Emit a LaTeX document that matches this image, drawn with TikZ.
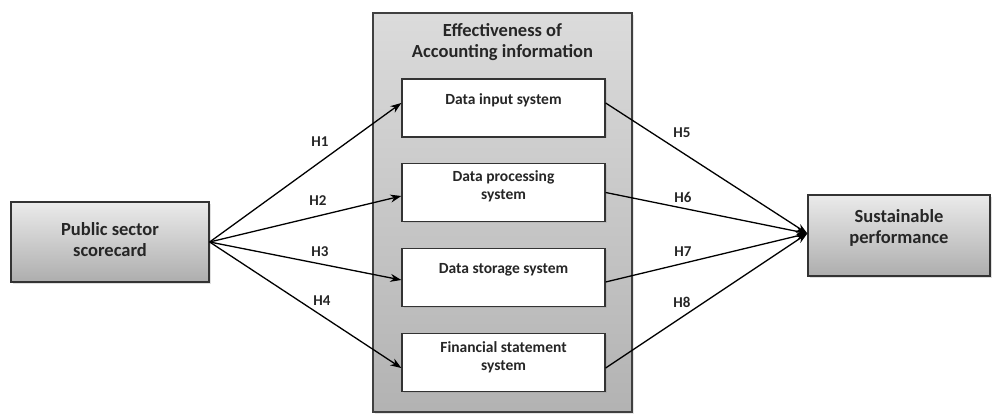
\documentclass[tikz,border=0pt]{standalone}
\usepackage{fontspec}
\setmainfont{Carlito}
\usetikzlibrary{arrows.meta,shadows}
\definecolor{txt}{HTML}{262626}
\tikzset{
  graybox/.style={draw=black!80, line width=1.3pt, top color=black!8, bottom color=black!32,
    drop shadow={opacity=0.25, shadow xshift=2pt, shadow yshift=-2pt}},
  bigbox/.style={draw=black!75, line width=1.3pt, top color=black!14, bottom color=black!30,
    drop shadow={opacity=0.2, shadow xshift=2pt, shadow yshift=-2pt}},
  whitebox/.style={draw=black!80, line width=1.3pt, fill=white, minimum width=203pt, minimum height=58pt,
    drop shadow={opacity=0.2, shadow xshift=1.5pt, shadow yshift=-1.5pt}},
  boxtext/.style={font=\fontsize{15.5}{18}\selectfont\bfseries, text=txt, align=center},
  maintext/.style={font=\fontsize{18.5}{21}\selectfont\bfseries, text=txt, align=center},
  hlab/.style={font=\fontsize{15}{17}\selectfont\bfseries, text=txt},
  link/.style={line width=1.3pt, black, -{Stealth[length=11pt,width=8pt]}}
}
\begin{document}
\begin{tikzpicture}[x=1pt,y=-1pt]
\useasboundingbox (0,0) rectangle (992,414);
% left box
\node[graybox, minimum width=198pt, minimum height=80pt, inner sep=0pt] (L) at (110,242) {};
\node[maintext] (Lt) at (110,240) {Public sector\\scorecard};
% big box
\node[bigbox, minimum width=259pt, minimum height=399pt, inner sep=0pt] (B) at (502.5,212.5) {};
\node[maintext] (Bt) at (502.5,42) {Effectiveness of\\Accounting information};
% inner boxes
\node[whitebox] (b1) at (503.5,108) {};
\node[boxtext] (b1t) at (503.5,100) {Data input system};
\node[whitebox] (b2) at (503.5,192.5) {};
\node[boxtext] (b2t) at (503.5,186) {Data processing\\system};
\node[whitebox] (b3) at (503.5,277.5) {};
\node[boxtext] (b3t) at (503.5,270) {Data storage system};
\node[whitebox] (b4) at (503.5,362.5) {};
\node[boxtext] (b4t) at (503.5,357) {Financial statement\\system};
% right box
\node[graybox, minimum width=182pt, minimum height=81pt, inner sep=0pt] (R) at (899,235.5) {};
\node[maintext] (Rt) at (899,228) {Sustainable\\performance};
% arrows left
\draw[link] (L.east) -- ([yshift=5pt]b1.west);
\draw[link] (L.east) -- ([yshift=-3.5pt]b2.west);
\draw[link] (L.east) -- ([yshift=-2.5pt]b3.west);
\draw[link] (L.east) -- ([yshift=-5.5pt]b4.west);
% arrows right
\draw[link] ([yshift=5pt]b1.east) -- ([yshift=2pt]R.west);
\draw[link] (b2.east) -- ([yshift=2pt]R.west);
\draw[link] ([yshift=-4.5pt]b3.east) -- ([yshift=2pt]R.west);
\draw[link] ([yshift=-5.5pt]b4.east) -- ([yshift=2pt]R.west);
% labels
\node[hlab] (h1) at (320,142) {H1};
\node[hlab] (h2) at (318,201) {H2};
\node[hlab] (h3) at (320,252) {H3};
\node[hlab] (h4) at (322,301) {H4};
\node[hlab] (h5) at (682,133) {H5};
\node[hlab] (h6) at (683,197) {H6};
\node[hlab] (h7) at (683,252) {H7};
\node[hlab] (h8) at (682,302) {H8};
\end{tikzpicture}
\end{document}
